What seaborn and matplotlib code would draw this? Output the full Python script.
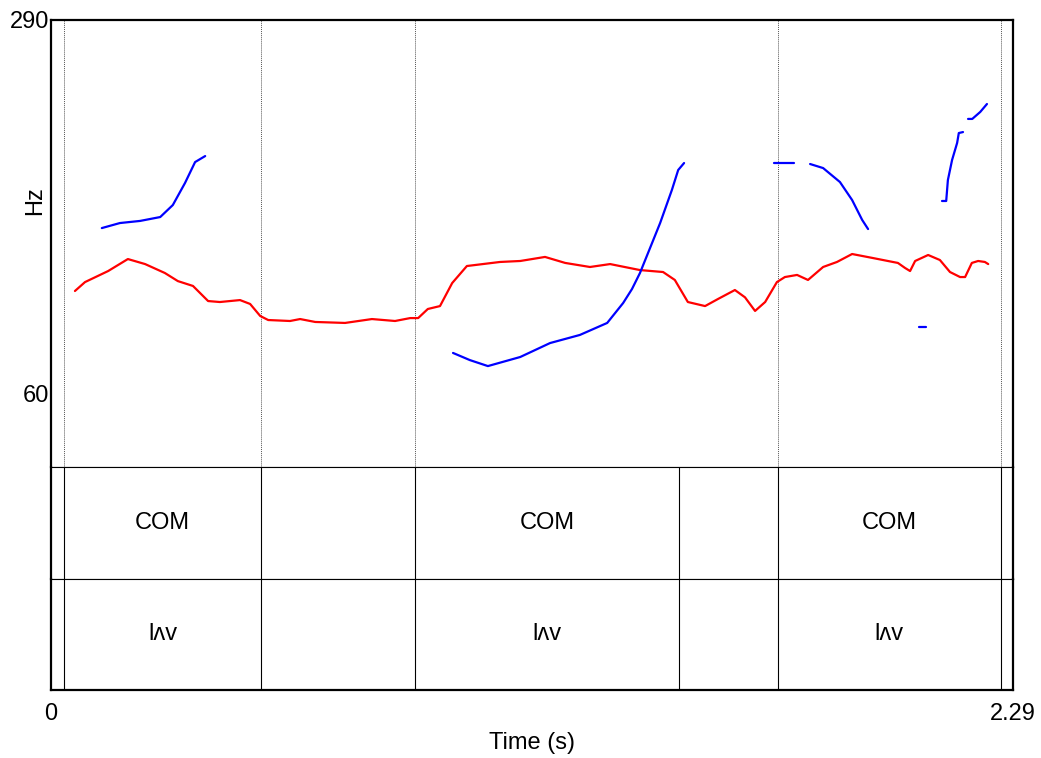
import matplotlib
matplotlib.use("Agg")
import matplotlib.pyplot as plt
import pandas as pd
import seaborn as sns

# pitch contours (time in s, frequency in Hz)
red_t = [0.057, 0.081, 0.136, 0.183, 0.224, 0.271, 0.302, 0.338, 0.374, 0.402,
         0.450, 0.474, 0.498, 0.517, 0.569, 0.593, 0.629, 0.700, 0.764, 0.819,
         0.855, 0.874, 0.897, 0.926, 0.955, 0.990, 1.069, 1.117, 1.176, 1.224,
         1.283, 1.331, 1.402, 1.457, 1.485, 1.516, 1.557, 1.588, 1.628, 1.652,
         1.676, 1.700, 1.728, 1.747, 1.776, 1.802, 1.838, 1.871, 1.907, 1.957,
         2.004, 2.016, 2.033, 2.045, 2.057, 2.088, 2.116, 2.140, 2.164, 2.176,
         2.192, 2.207, 2.223, 2.231]
red_hz = [122.9, 128.4, 135.2, 142.6, 139.5, 134.0, 129.0, 126.0, 116.7, 116.1,
          117.3, 114.9, 107.5, 105.0, 104.4, 105.6, 103.8, 103.2, 105.6, 104.4,
          106.2, 106.2, 111.8, 113.6, 127.8, 138.3, 140.8, 141.4, 143.9, 140.2,
          137.7, 139.5, 135.8, 134.6, 129.7, 116.1, 113.6, 118.0, 123.5, 119.0,
          110.6, 116.1, 128.4, 131.5, 132.8, 129.7, 137.7, 140.8, 145.7, 143.2,
          140.8, 140.2, 137.1, 135.2, 141.4, 145.1, 142.0, 134.6, 131.5, 131.5,
          140.2, 141.4, 140.8, 139.5]

blue_seg = [1] * 8 + [2] * 15 + [3] * 2 + [4] * 6 + [5] * 2 + [6] * 7 + [7] * 4
blue_t = [0.121, 0.164, 0.212, 0.260, 0.290, 0.319, 0.343, 0.367,
          0.957, 0.997, 1.040, 1.117, 1.188, 1.259, 1.324, 1.362, 1.383, 1.402,
          1.426, 1.450, 1.478, 1.493, 1.507,
          1.721, 1.769,
          1.807, 1.838, 1.878, 1.907, 1.931, 1.945,
          2.066, 2.083,
          2.121, 2.131, 2.135, 2.145, 2.157, 2.161, 2.171,
          2.183, 2.193, 2.212, 2.228]
blue_hz = [161.7, 164.8, 166.1, 168.5, 175.9, 189.5, 202.4, 206.1,
           84.7, 80.3, 76.6, 82.2, 90.8, 95.8, 103.2, 115.5, 124.1, 134.0,
           149.4, 164.8, 185.2, 197.5, 201.8,
           201.8, 201.8,
           201.2, 198.7, 190.1, 179.0, 166.7, 161.1,
           100.7, 100.7,
           178.4, 178.4, 191.3, 203.7, 214.2, 220.3, 220.9,
           229.0, 229.0, 233.3, 238.2]

# text grid
boundaries = [0.031, 0.500, 0.866, 1.495, 1.730, 2.261]
dotted_marks = [0.031, 0.500, 0.866, 1.730, 2.261]
tier1_labels = ["COM", "", "COM", "", "COM"]
tier2_labels = ["lʌv", "", "lʌv", "", "lʌv"]

t_max = 2.29
hz_top, hz_low = 290, 60

sns.set_style("white")
plt.rcParams["font.family"] = ["Liberation Sans", "DejaVu Sans"]
plt.rcParams["text.color"] = "black"
plt.rcParams["xtick.color"] = "black"
plt.rcParams["ytick.color"] = "black"

fig = plt.figure(figsize=(10.41, 7.58), dpi=100)
left, width = 51 / 1041, 962 / 1041
ax = fig.add_axes([left, 1 - 467 / 758, width, 447 / 758])
ax1 = fig.add_axes([left, 1 - 579 / 758, width, 112 / 758])
ax2 = fig.add_axes([left, 1 - 690 / 758, width, 111 / 758])

red_df = pd.DataFrame({"t": red_t, "hz": red_hz})
blue_df = pd.DataFrame({"t": blue_t, "hz": blue_hz, "seg": blue_seg})
sns.lineplot(data=red_df, x="t", y="hz", color="#ff0000", lw=1.6, sort=False,
             estimator=None, ax=ax)
sns.lineplot(data=blue_df, x="t", y="hz", units="seg", color="#0000ff", lw=1.6,
             sort=False, estimator=None, ax=ax)

for b in dotted_marks:
    ax.axvline(b, color="#555555", lw=0.7, ls=(0, (1, 1)), zorder=0)

# 290 Hz at top, 60 Hz at 373 px below, 447 px panel
px_per_hz = 373 / (hz_top - hz_low)
ax.set_ylim(hz_top - 447 / px_per_hz, hz_top)
ax.set_xlim(0, t_max)
ax.set_yticks([hz_low, hz_top])
ax.set_yticklabels([str(hz_low), str(hz_top)])
ax.tick_params(axis="y", length=0, pad=1, labelsize=17)
ax.set_xticks([])
ax.set_xlabel("")
ax.set_ylabel("")
ax.text(-0.0166, 0.597, "Hz", transform=ax.transAxes, rotation=90,
        ha="center", va="center", fontsize=17)

for tier, labels in [(ax1, tier1_labels), (ax2, tier2_labels)]:
    tier.set_xlim(0, t_max)
    tier.set_ylim(0, 1)
    tier.set_yticks([])
    for b in boundaries:
        tier.axvline(b, color="black", lw=0.8)
    for i, lab in enumerate(labels):
        if lab:
            tier.text((boundaries[i] + boundaries[i + 1]) / 2, 0.5, lab,
                      ha="center", va="center", fontsize=17)

ax1.set_xticks([])
ax2.set_xticks([0, t_max])
ax2.set_xticklabels(["0", "2.29"])
ax2.tick_params(axis="x", length=5, width=1.2, direction="out", pad=4, labelsize=17)

for a in (ax, ax1, ax2):
    for s in a.spines.values():
        s.set_color("black")
        s.set_linewidth(0.8)
    a.spines["left"].set_linewidth(1.6)
    a.spines["right"].set_linewidth(1.6)
ax.spines["top"].set_linewidth(1.6)
ax2.spines["bottom"].set_linewidth(1.6)

fig.text(532 / 1041, 1 - 743 / 758, "Time (s)", ha="center", va="center", fontsize=17)

fig.savefig("out.png", dpi=100)
